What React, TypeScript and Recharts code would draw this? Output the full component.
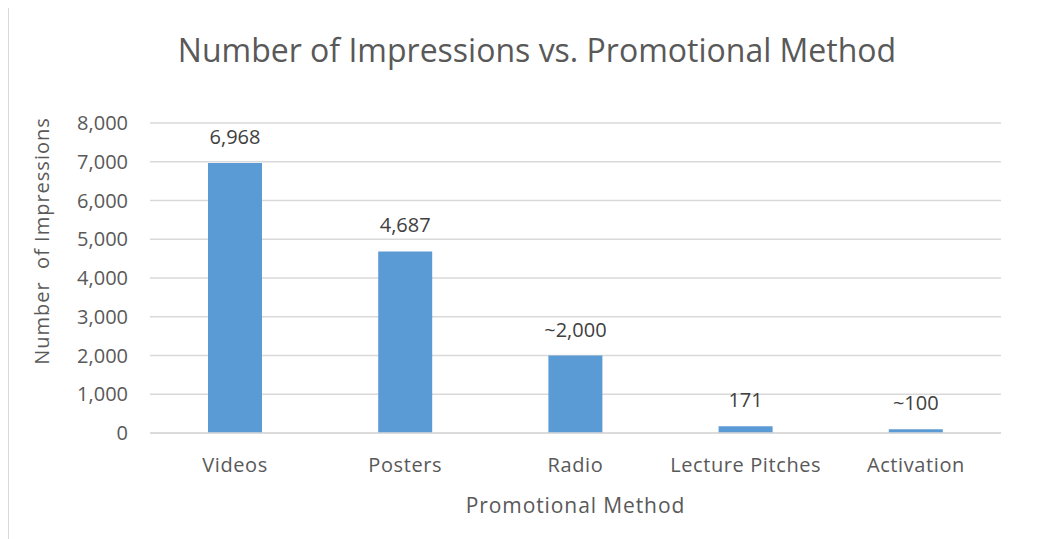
import React from 'react';
import { BarChart, Bar, XAxis, YAxis, CartesianGrid, LabelList, Label } from 'recharts';

const methods = ['Videos', 'Posters', 'Radio', 'Lecture Pitches', 'Activation'];
const impressions = [6968, 4687, 2000, 171, 100];
const valueLabels = ['6,968', '4,687', '~2,000', '171', '~100'];
const yTicks = [0, 1000, 2000, 3000, 4000, 5000, 6000, 7000, 8000];

const data = methods.map((m, i) => ({ method: m, value: impressions[i], label: valueLabels[i] }));

const FONT = '"Open Sans", Lato, sans-serif';
const GREY = '#595959';

const YTitle = ({ viewBox }) => {
  const x = 32;
  const y = viewBox.y + viewBox.height / 2 - 37;
  return (
    <text x={x} y={y} transform={`rotate(-90, ${x}, ${y})`} textAnchor="middle" dominantBaseline="central"
      fill={GREY} fontSize={20} letterSpacing={1} fontFamily={FONT} style={{ whiteSpace: 'pre' }}>
      {'Number  of Impressions'}
    </text>
  );
};

export default function App() {
  return (
    <div style={{ position: 'relative', marginLeft: -1, marginTop: -3, width: 1060, height: 540,
      borderLeft: '2px solid #d9d9d9', borderTop: '2px solid #d9d9d9', background: '#fff', fontFamily: FONT }}>
      <div style={{ position: 'absolute', left: 0, width: 1056, top: 23, textAlign: 'center', fontSize: 32,
        color: GREY, lineHeight: '40px' }}>
        Number of Impressions vs. Promotional Method
      </div>
      <BarChart width={1048} height={532} data={data} margin={{ top: 116, right: 56, left: 0, bottom: 22 }}>
        <CartesianGrid vertical={false} stroke="#d9d9d9" strokeWidth={1.5} />
        <XAxis dataKey="method" height={84} tickSize={0} tickMargin={25} stroke="#d9d9d9" strokeWidth={1.5}
          tick={{ fill: GREY, fontSize: 20, letterSpacing: 0.6, fontFamily: FONT }}>
          <Label value="Promotional Method" position="insideBottom" offset={4} fill={GREY} fontSize={21}
            letterSpacing={0.9} fontFamily={FONT} />
        </XAxis>
        <YAxis width={141} domain={[0, 8000]} ticks={yTicks} axisLine={false} tickSize={0} tickMargin={22}
          tickFormatter={(v) => v.toLocaleString('en-US')} tick={{ fill: GREY, fontSize: 20, fontFamily: FONT }}
          label={{ content: YTitle }} />
        <Bar dataKey="value" fill="#5b9bd5" barSize={54} isAnimationActive={false}>
          <LabelList dataKey="label" position="top" offset={19} fill="#404040" fontSize={20} fontFamily={FONT} />
        </Bar>
      </BarChart>
    </div>
  );
}
